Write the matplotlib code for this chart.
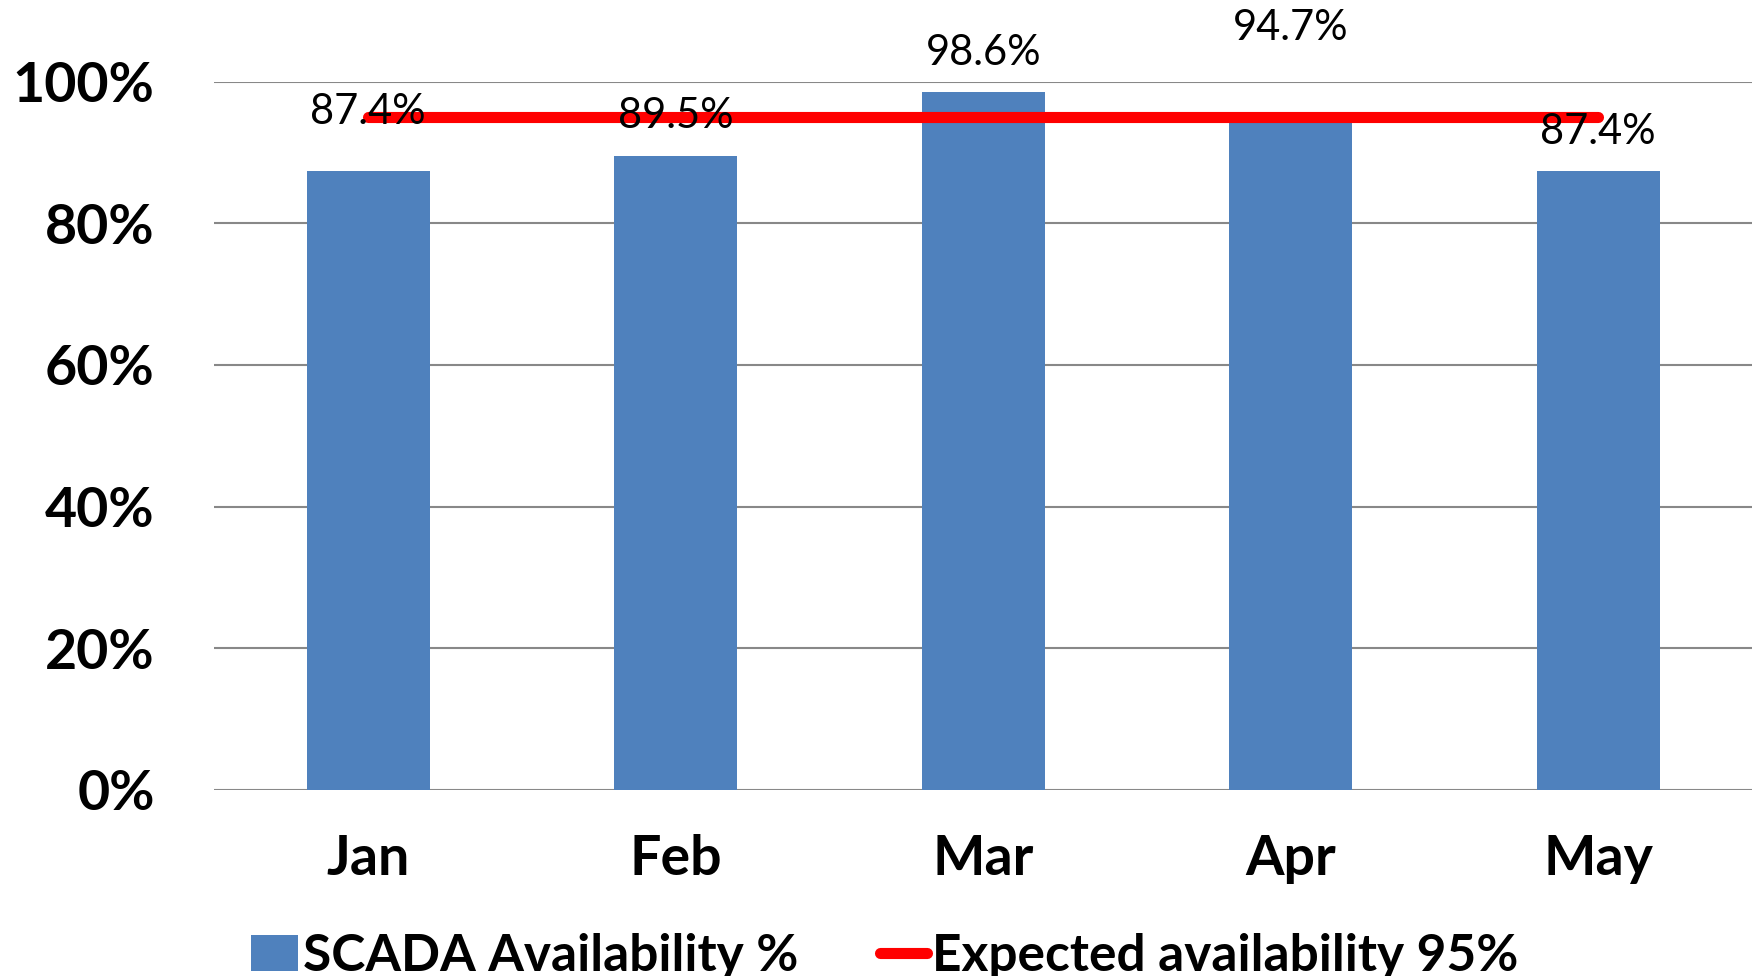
import numpy as np
import matplotlib
matplotlib.use("Agg")
import matplotlib.pyplot as plt
from matplotlib.ticker import PercentFormatter

plt.rcParams['font.family'] = ['Lato', 'DejaVu Sans']

# data
months = ['Jan', 'Feb', 'Mar', 'Apr', 'May']
scada = [0.874, 0.895, 0.986, 0.947, 0.874]
expected = [0.95, 0.95, 0.95, 0.95, 0.95]
label_text = ['87.4%', '89.5%', '98.6%', '94.7%', '87.4%']

# vertical offset of each data label above its bar (pixels)
label_off = [59, 40, 39, 91, 39]

fig = plt.figure(figsize=(17.52, 9.76), dpi=100)
ax = fig.add_axes([0.1224, 0.1906, 0.8776, 0.7258])

x = np.arange(len(months))
bars = ax.bar(x, scada, width=0.4, color='#4F81BD', zorder=2, label='SCADA Availability %')
line, = ax.plot(x, expected, color='#FF0000', lw=8, solid_capstyle='round', zorder=3,
                label='Expected availability 95%')

for xi, v, t, off in zip(x, scada, label_text, label_off):
    ax.annotate(t, (xi, v), xytext=(0, off), textcoords='offset pixels',
                ha='center', va='center', fontsize=30, color='black',
                annotation_clip=False, zorder=4)

ax.set_xlim(-0.5, 4.5)
ax.set_ylim(0, 1)
ax.set_yticks(np.arange(0, 1.01, 0.2))
ax.yaxis.set_major_formatter(PercentFormatter(1.0, decimals=0))
ax.set_xticks(x)
ax.set_xticklabels(months)
ax.tick_params(axis='both', length=0, labelsize=40)
ax.tick_params(axis='y', pad=43)
ax.tick_params(axis='x', pad=32)
for lab in ax.get_xticklabels() + ax.get_yticklabels():
    lab.set_fontweight('bold')

ax.grid(axis='y', color='#888888', lw=1.5, zorder=0)
for s in ax.spines.values():
    s.set_visible(False)
ax.set_axisbelow(True)

fig.legend([bars, line], ['SCADA Availability %', 'Expected availability 95%'],
           loc='center', bbox_to_anchor=(0.505, 0.02), ncol=2, frameon=False,
           prop={'size': 37, 'weight': 'bold'}, handlelength=0.9, handletextpad=0.1,
           columnspacing=1.6)

fig.savefig('out.png', dpi=100)
